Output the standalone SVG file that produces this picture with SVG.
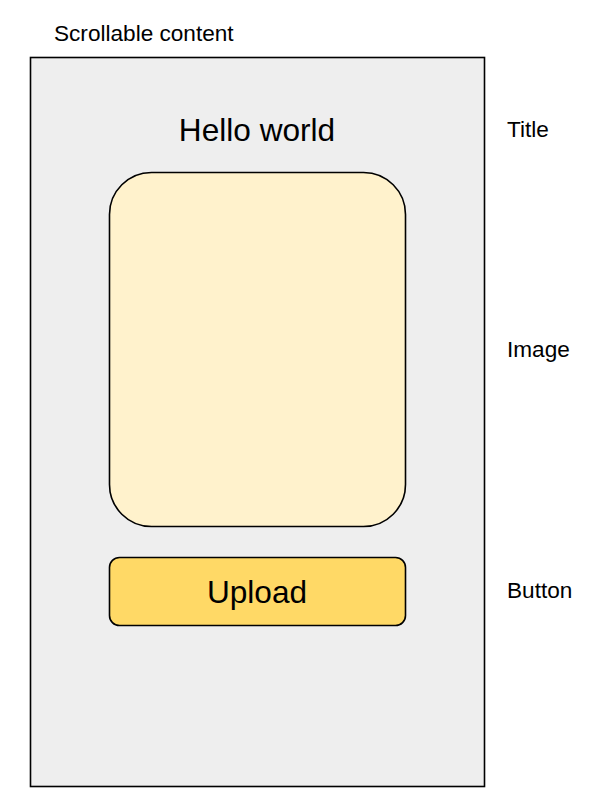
<svg xmlns="http://www.w3.org/2000/svg" width="592" height="806" viewBox="0 0 592 806">
<style>
.lbl{font-family:"Liberation Sans",Arial,sans-serif;font-size:22.6px;fill:#000}
.big{font-family:"Liberation Sans",Arial,sans-serif;font-size:31.6px;fill:#000;text-anchor:middle}
.box{stroke:#000;stroke-width:1.6}
</style>
<rect width="592" height="806" fill="#fff"/>
<g id="scroll">
<rect class="box" x="30.5" y="57.5" width="454" height="729" fill="#eeeeee"/>
<text class="lbl" x="54" y="41">Scrollable content</text>
</g>
<g id="title">
<text class="big" x="257" y="141">Hello world</text>
</g>
<g id="image">
<rect class="box" x="109.5" y="172.5" width="296" height="354" rx="42" ry="42" fill="#fff2cc"/>
</g>
<g id="button">
<rect class="box" x="109.5" y="557.5" width="296" height="68" rx="10" ry="10" fill="#ffd966"/>
<text class="big" x="257" y="603">Upload</text>
</g>
<g id="labels">
<text class="lbl" x="507" y="137">Title</text>
<text class="lbl" x="507" y="357">Image</text>
<text class="lbl" x="507" y="598">Button</text>
</g>
<g id="connectors"></g>
</svg>
